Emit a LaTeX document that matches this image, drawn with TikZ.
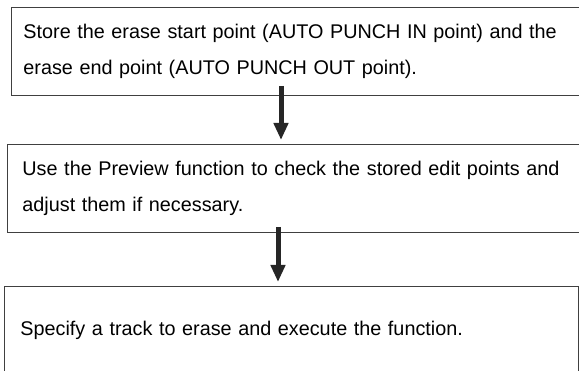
\documentclass[tikz,border=0pt]{standalone}
\usepackage{fontspec}
\setmainfont{Liberation Sans}
\usetikzlibrary{arrows.meta}

\begin{document}
\begin{tikzpicture}[
  x=1pt, y=-1pt,
  stepbox/.style={draw=black!75, line width=0.9pt, anchor=north west,
                  minimum height=88pt, align=left, inner ysep=0pt,
                  font=\fontsize{19.8}{36}\selectfont},
  arr/.style={-{Triangle[length=17pt,width=14pt]}, line width=5pt,
              draw=black!85, shorten >=4pt}
]
\useasboundingbox (0,0) rectangle (579,371);
\node[stepbox, text width=640pt, inner xsep=12pt] (store) at (11,7)
  {Store the erase start point (AUTO PUNCH IN point) and the\\
   erase end point (AUTO PUNCH OUT point).};
\node[stepbox, text width=640pt, inner xsep=15pt] (preview) at (7,144)
  {Use the Preview function to check the stored edit points and\\
   adjust them if necessary.};
\node[stepbox, text width=542pt, inner xsep=16pt] (execute) at (4,286)
  {Specify a track to erase and execute the function.};

\coordinate (s1) at (281,86);
\coordinate (s2) at (278,227);
\draw[arr] (s1) -- (s1 |- preview.north);
\draw[arr] (s2) -- (s2 |- execute.north);
\end{tikzpicture}
\end{document}
